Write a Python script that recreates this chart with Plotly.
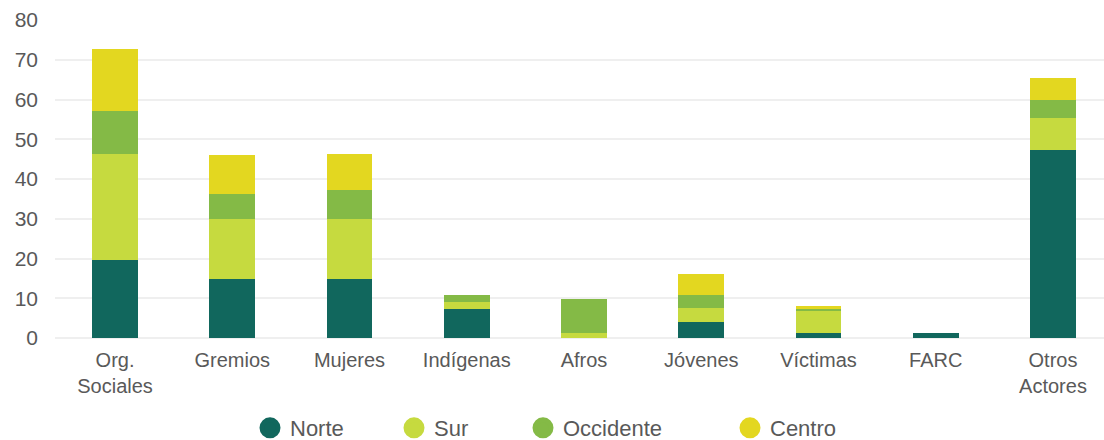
import plotly.graph_objects as go

categories = ["Org.<br>Sociales", "Gremios", "Mujeres", "Indígenas", "Afros",
              "Jóvenes", "Víctimas", "FARC", "Otros<br>Actores"]
norte = [19.7, 14.9, 14.9, 7.4, 0, 4.1, 1.3, 1.3, 47.3]
sur = [26.6, 15.1, 15.1, 1.7, 1.3, 3.5, 5.7, 0, 8.1]
occidente = [10.8, 6.3, 7.3, 1.8, 8.6, 3.3, 0.3, 0, 4.5]
centro = [15.6, 9.8, 9.0, 0, 0, 5.3, 0.8, 0, 5.5]
y_ticks = [0, 10, 20, 30, 40, 50, 60, 70, 80]

series = [("Norte", norte, "#11675D"),
          ("Sur", sur, "#C6DA3F"),
          ("Occidente", occidente, "#84BA46"),
          ("Centro", centro, "#E3D720")]

FONT = "Liberation Sans, Arial, sans-serif"
GREY = "#595959"

fig = go.Figure()
for name, vals, col in series:
    fig.add_trace(go.Bar(x=categories, y=vals, name=name, marker_color=col,
                         marker_line_width=0, width=0.39, showlegend=False,
                         legendgroup=name))

legend_names = ["legend", "legend2", "legend3", "legend4"]
legend_x = [250, 394, 523, 730]
for (name, vals, col), lg in zip(series, legend_names):
    fig.add_trace(go.Scatter(x=[categories[0]], y=[None], mode="markers", name=name,
                             marker=dict(symbol="circle", size=16, color=col,
                                         line=dict(width=5, color=col)),
                             legend=lg, legendgroup=name, showlegend=True))

layout_legends = {}
for lg, lx in zip(legend_names, legend_x):
    layout_legends[lg] = dict(orientation="h", xref="container", yref="container",
                              x=lx / 1104, y=(440 - 428) / 440, xanchor="left",
                              yanchor="middle", font=dict(family=FONT, size=22, color=GREY),
                              bgcolor="rgba(0,0,0,0)", borderwidth=0, itemsizing="trace")

fig.update_layout(
    width=1104, height=440,
    barmode="stack",
    plot_bgcolor="white", paper_bgcolor="white",
    margin=dict(l=55, r=0, t=20, b=102, autoexpand=False),
    font=dict(family=FONT, size=20, color=GREY),
    **layout_legends,
)
fig.update_xaxes(range=[-0.512, 8.435], showgrid=False, showline=False,
                 ticks="", tickfont=dict(size=20, color=GREY), ticklabelstandoff=8,
                 fixedrange=True, automargin=False)
fig.update_yaxes(range=[0, 80], tickvals=y_ticks, showgrid=True, gridcolor="#EFEFEF",
                 gridwidth=2, zeroline=True, zerolinecolor="#EFEFEF", zerolinewidth=2,
                 showline=False, ticks="", tickfont=dict(size=21, color=GREY),
                 ticklabelstandoff=16, fixedrange=True, automargin=False)

fig.write_html("out.html", config={"displayModeBar": False},
               post_script="document.body.style.margin='0';document.body.style.overflow='hidden';")
